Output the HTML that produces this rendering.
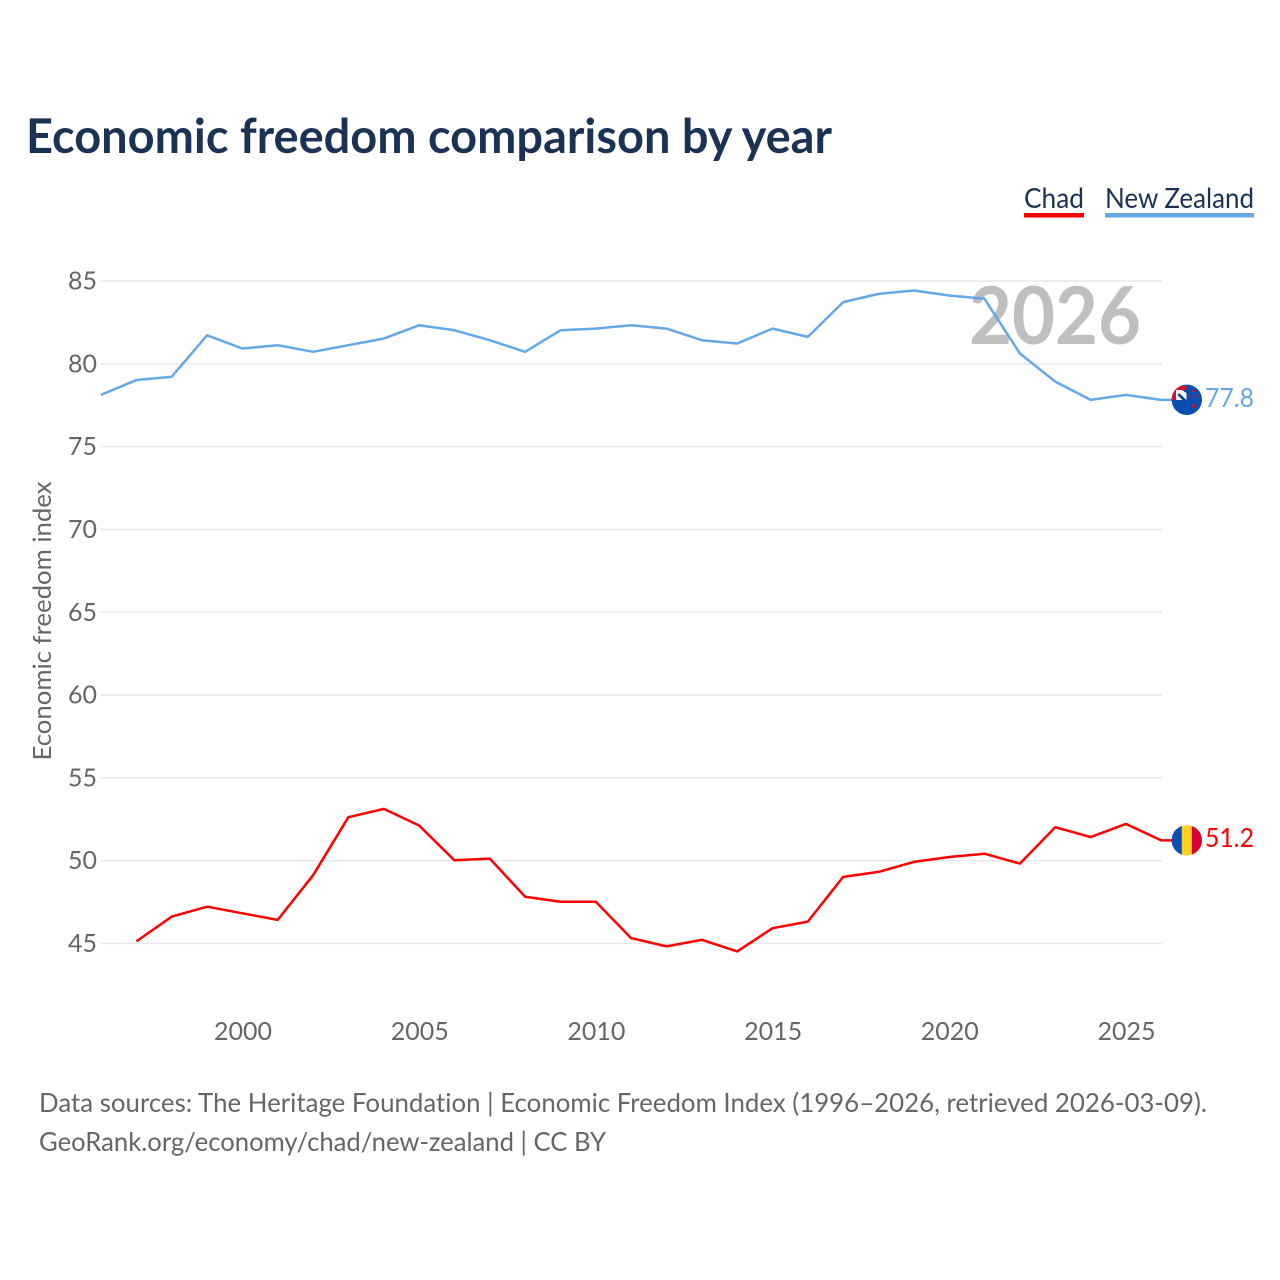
<!DOCTYPE html>
<html lang="en">
<head>
<meta charset="utf-8">
<title>Economic freedom comparison by year</title>
<style>
html,body{margin:0;padding:0;background:#fff;width:1280px;height:1280px;overflow:hidden}
svg{display:block}
text{font-family:"Lato","Carlito","Liberation Sans",sans-serif;font-variant-ligatures:none}
</style>
</head>
<body>
<svg id="chart" width="1280" height="1280" viewBox="0 0 1280 1280" xmlns="http://www.w3.org/2000/svg">
<defs>
<clipPath id="nz-clip"><circle cx="1186.8" cy="399.800" r="15.200"/></clipPath>
<clipPath id="td-clip"><circle cx="1186.8" cy="840.300" r="15.200"/></clipPath>
</defs>
<text x="26" y="153" font-size="48" font-weight="700" fill="#1a3354" textLength="806" lengthAdjust="spacingAndGlyphs">Economic freedom comparison by year</text>
<g id="grid"></g>
<g id="yticks"></g>
<g id="xticks"></g>
<text x="969" y="344" font-size="80" font-weight="700" fill="#bfbfbf" textLength="172" lengthAdjust="spacingAndGlyphs">2026</text>
<text transform="translate(51,760.500) rotate(-90)" font-size="25.500" fill="#666666" textLength="279" lengthAdjust="spacingAndGlyphs">Economic freedom index</text>
<g id="series"></g>
<g clip-path="url(#nz-clip)">
<rect x="1171" y="384" width="32" height="32" fill="#0a4fb0"/>
<rect x="1171" y="386" width="15.500" height="14" fill="#d8102f"/>
<rect x="1176" y="390" width="10.500" height="10" fill="#f6f6f6"/>
<path d="M1179 393l7.500 7h-4l-5-5z" fill="#0a3f90"/>
<path d="M1182 390h4.500v3z" fill="#0a3f90"/>
<circle cx="1193.500" cy="391" r="1.300" fill="#d8102f"/>
<circle cx="1197.500" cy="396" r="1.200" fill="#d8102f"/>
<circle cx="1190" cy="396.500" r="1.200" fill="#d8102f"/>
<circle cx="1193.500" cy="406" r="1.700" fill="#d8102f"/>
</g>
<g clip-path="url(#td-clip)">
<rect x="1171" y="824" width="11" height="32" fill="#0a4fb0"/>
<rect x="1181.800" y="824" width="10" height="32" fill="#fed123"/>
<rect x="1191.800" y="824" width="11" height="32" fill="#d8002f"/>
</g>
<text x="1205" y="407" font-size="26" fill="#64a8e8" textLength="49" lengthAdjust="spacingAndGlyphs">77.8</text>
<text x="1205" y="847" font-size="26" fill="#ff0000" textLength="49" lengthAdjust="spacingAndGlyphs">51.2</text>
<g>
<text x="1024" y="208" font-size="28" fill="#1a3354" textLength="60" lengthAdjust="spacingAndGlyphs">Chad</text>
<rect x="1024" y="213" width="60" height="4.500" fill="#ff0000"/>
</g>
<g>
<text x="1105" y="208" font-size="28" fill="#1a3354" textLength="149" lengthAdjust="spacingAndGlyphs">New Zealand</text>
<rect x="1105" y="213" width="149" height="4.500" fill="#64a8e8"/>
</g>
<text x="39" y="1112" font-size="26.500" fill="#666666" textLength="1168" lengthAdjust="spacingAndGlyphs">Data sources: The Heritage Foundation | Economic Freedom Index (1996–2026, retrieved 2026-03-09).</text>
<text x="39" y="1151" font-size="26.500" fill="#666666" textLength="567" lengthAdjust="spacingAndGlyphs">GeoRank.org/economy/chad/new-zealand | CC BY</text>
</svg>
<script>
const years = [1996,1997,1998,1999,2000,2001,2002,2003,2004,2005,2006,2007,2008,2009,2010,2011,2012,2013,2014,2015,2016,2017,2018,2019,2020,2021,2022,2023,2024,2025,2026];
const newZealandValues = [78.1,79.0,79.2,81.7,80.9,81.1,80.7,81.1,81.5,82.3,82.0,81.4,80.7,82.0,82.1,82.3,82.1,81.4,81.2,82.1,81.6,83.7,84.2,84.4,84.1,83.9,80.6,78.9,77.8,78.1,77.8];
const chadValues = [null,45.1,46.6,47.2,46.8,46.4,49.1,52.6,53.1,52.1,50.0,50.1,47.8,47.5,47.5,45.3,44.8,45.2,44.5,45.9,46.3,49.0,49.3,49.9,50.2,50.4,49.8,52.0,51.4,52.2,51.2];
const yTickValues = [45,50,55,60,65,70,75,80,85];
const xTickValues = [2000,2005,2010,2015,2020,2025];

const NS = 'http://www.w3.org/2000/svg';
function xScale(year){ return 243 + (year - 2000) * 35.34; }
function yScale(v){ return 943.5 - (v - 45) * 16.5625; }
function lineX(year){ return xScale(year) - 0.6; }
function lineY(v){ return yScale(v) - 0.4; }

const grid = document.getElementById('grid');
const yticks = document.getElementById('yticks');
const xticks = document.getElementById('xticks');
const series = document.getElementById('series');

yTickValues.forEach(function(v){
  const l = document.createElementNS(NS,'line');
  l.setAttribute('x1', 101);
  l.setAttribute('x2', 1162);
  l.setAttribute('y1', yScale(v));
  l.setAttribute('y2', yScale(v));
  l.setAttribute('stroke', '#e8e8e8');
  l.setAttribute('stroke-width', '1.5');
  
  
  grid.appendChild(l);
  const t = document.createElementNS(NS,'text');
  t.setAttribute('x', 97);
  t.setAttribute('y', yScale(v) + 8.5);
  t.setAttribute('text-anchor', 'end');
  t.setAttribute('font-size', '25');
  t.setAttribute('fill', '#666666');
  
  
  t.textContent = v;
  yticks.appendChild(t);
});

xTickValues.forEach(function(y){
  const t = document.createElementNS(NS,'text');
  t.setAttribute('x', xScale(y));
  t.setAttribute('y', 1040);
  t.setAttribute('text-anchor', 'middle');
  t.setAttribute('font-size', '25');
  t.setAttribute('fill', '#666666');
  
  
  t.textContent = y;
  xticks.appendChild(t);
});

function drawLine(values, color, name){
  const pts = [];
  values.forEach(function(v, i){
    if (v !== null) pts.push(lineX(years[i]).toFixed(1) + ',' + lineY(v).toFixed(1));
  });
  const last = values[values.length - 1];
  pts.push('1172,' + lineY(last).toFixed(1));
  const p = document.createElementNS(NS,'polyline');
  p.setAttribute('points', pts.join(' '));
  p.setAttribute('fill', 'none');
  p.setAttribute('stroke', color);
  p.setAttribute('stroke-width', '2.5');
  p.setAttribute('stroke-linejoin', 'round');
  
  
  series.appendChild(p);
}
drawLine(newZealandValues, '#64a8e8', 'new-zealand-line');
drawLine(chadValues, '#ff0000', 'chad-line');
</script>
</body>
</html>
